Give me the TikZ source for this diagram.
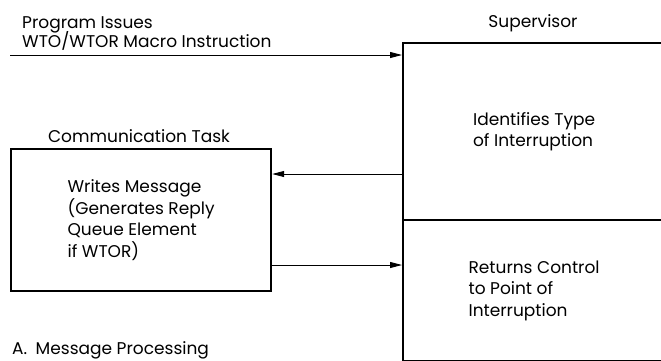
\documentclass[tikz,border=0pt]{standalone}
\usepackage{fontspec}
\setmainfont{Poppins}
\usetikzlibrary{arrows.meta}
\begin{document}
\begin{tikzpicture}[x=1pt,y=-1pt,
  txt/.style={font=\fontsize{17}{21.5}\selectfont, inner sep=0pt},
  blk/.style={draw, line width=2.2pt, inner sep=0pt, align=left,
    font=\fontsize{17}{21.5}\selectfont},
  arr/.style={line width=0.9pt, -{Triangle[length=12pt,width=6pt]}}]
\useasboundingbox (0,0) rectangle (661,360);
\clip (0,0) rectangle (661,360);

% supervisor blocks
\node[blk, anchor=north west, minimum width=262pt, minimum height=177pt]
  (ident) at (402,42) {Identifies Type\\of Interruption};
\node[blk, anchor=north west, minimum width=262pt, minimum height=141pt]
  (ret) at (402,219) {Returns Control\\to Point of\\Interruption};
\node[txt, anchor=base] (suplab) at (533,27) {Supervisor};

% communication task block
\node[blk, anchor=north west, minimum width=260pt, minimum height=142pt]
  (comm) at (10,148) {Writes Message\\(Generates Reply\\Queue Element\\if WTOR)};
\node[txt, anchor=base] (commlab) at (139,142) {Communication Task};

% incoming macro instruction
\node[txt, anchor=base west] (prog) at (22,28) {Program Issues};
\node[txt, anchor=base west] (macro) at (22,47) {WTO/WTOR Macro Instruction};
\coordinate (start) at (10,55);
\draw[arr] (start) -- (start -| ident.west);

% connectors between the blocks
\draw[arr] (ident.west |- 0,174) -- (comm.east |- 0,174);
\draw[arr] (comm.east |- 0,265) -- (ret.west |- 0,265);

\node[txt, anchor=base west] (cap) at (12,354) {A.\enspace Message Processing};
\end{tikzpicture}
\end{document}
